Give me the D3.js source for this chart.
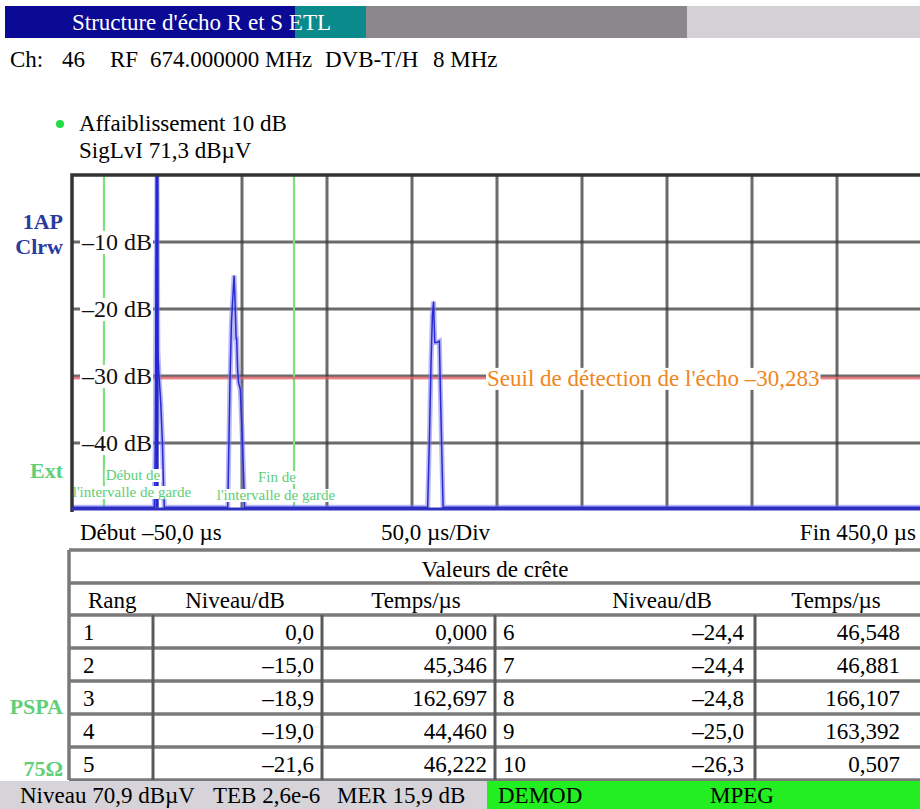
<!DOCTYPE html>
<html><head><meta charset="utf-8">
<script src="https://cdn.jsdelivr.net/npm/d3@7"></script>
<style>body{margin:0;background:#fff}svg{display:block}text{font-family:"Liberation Serif","DejaVu Serif",serif}</style>
</head><body><svg id="c" width="920" height="809"></svg>
<script>
// ---- data ----
const yTicks = [-10, -20, -30, -40];
const xDomain = [-50, 450];
const xGrid = [0, 50, 100, 150, 200, 250, 300, 350, 400];
const guardTimes = [-31.2, 80.6];
const threshold = -30.283;
const traceTime  = [-50, -1.6, -1.0, -0.6, -0.2, 0, 0.2, 0.507, 1.2, 2.2, 3.2, 3.8, 4.3,
  41.6, 42.3, 43.0, 43.8, 44.46, 45.346, 45.8, 46.222, 46.548, 46.881, 47.4, 48.0, 49.0, 50.0, 50.8, 51.5,
  159.2, 160.2, 161.2, 162.0, 162.697, 163.0, 163.392, 164.5, 166.107, 166.6, 167.4, 168.3, 450];
const traceLevel = [-49.6, -49.6, -40, -17, -8, 0, -10, -26.3, -30, -34, -40, -46, -49.6,
  -49.6, -40, -30, -22, -19.0, -15.0, -18, -21.6, -24.4, -24.4, -29, -31, -32, -38, -44, -49.6,
  -49.6, -40, -28, -21, -18.9, -22, -25.0, -25, -24.8, -31, -40, -49.6, -49.6];
const rankA = ["1","2","3","4","5"];
const levelA = ["0,0","–15,0","–18,9","–19,0","–21,6"];
const timeA = ["0,000","45,346","162,697","44,460","46,222"];
const rankB = ["6","7","8","9","10"];
const levelB = ["–24,4","–24,4","–24,8","–25,0","–26,3"];
const timeB = ["46,548","46,881","166,107","163,392","0,507"];
const headers = ["Rang","Niveau/dB","Temps/µs","Niveau/dB","Temps/µs"];
const chParts = ["Ch:","46","RF","674.000000 MHz","DVB-T/H","8 MHz"];
const statusParts = ["Niveau 70,9 dBµV","TEB 2,6e-6","MER 15,9 dB"];

// ---- drawing ----
const FS = 23;
const svg = d3.select("#c");
const x = d3.scaleLinear().domain(xDomain).range([72, 922]);
const y = d3.scaleLinear().domain([0, -50]).range([175, 510]);

// header bar
const hb = [[5,295,"#0a0a94"],[295,366,"#0b8a8c"],[366,687,"#8a888b"],[687,920,"#d3d1d5"]];
svg.selectAll("rect.hb").data(hb).join("rect").attr("x",d=>d[0]).attr("y",6).attr("width",d=>d[1]-d[0]).attr("height",32).attr("fill",d=>d[2]);
svg.append("text").attr("x",72).attr("y",30).attr("fill","#fff").attr("font-size",FS).text("Structure d'écho R et S ETL");
const chX = [10, 62, 110, 150, 325, 433];
chParts.forEach((t,i)=> svg.append("text").attr("x",chX[i]).attr("y",67).attr("font-size",FS).text(t));

// legend
svg.append("circle").attr("cx",60).attr("cy",124).attr("r",4).attr("fill","#22dd44");
svg.append("text").attr("x",79).attr("y",131).attr("font-size",FS).text("Affaiblissement 10 dB");
svg.append("text").attr("x",79).attr("y",158).attr("font-size",FS).text("SigLvI 71,3 dBµV");

// side labels
const side = [["1AP",229,"#2a3a9e"],["Clrw",254,"#2a3a9e"],["Ext",478,"#5fcf7a"],["PSPA",714,"#5fcf7a"],["75Ω",776,"#5fcf7a"]];
svg.selectAll("text.side").data(side).join("text").attr("x",63).attr("y",d=>d[1]).attr("text-anchor","end")
  .attr("font-size",22).attr("font-weight","bold").attr("fill",d=>d[2]).text(d=>d[0]);

const g = svg.append("g");
// grid
g.selectAll("line.vg").data(xGrid).join("line").attr("x1",d=>x(d)).attr("x2",d=>x(d)).attr("y1",y(0)).attr("y2",y(-50))
  .attr("stroke","#3a3a3a").attr("stroke-width",3).attr("stroke-opacity",0.75);
g.selectAll("line.hg").data(yTicks).join("line").attr("x1",72).attr("x2",920).attr("y1",d=>y(d)).attr("y2",d=>y(d))
  .attr("stroke","#3a3a3a").attr("stroke-width",3).attr("stroke-opacity",0.75);
// guard lines
g.selectAll("line.gd").data(guardTimes).join("line").attr("x1",d=>x(d)).attr("x2",d=>x(d)).attr("y1",y(0)).attr("y2",y(-50))
  .attr("stroke","#7ee07e").attr("stroke-width",2.2);
// threshold
g.append("line").attr("x1",72).attr("x2",920).attr("y1",y(threshold)).attr("y2",y(threshold)).attr("stroke","#e8606a").attr("stroke-width",3).attr("stroke-opacity",0.75);

// label backgrounds + labels
function labelBox(txt, xx, yy, size, color, anchor){
  const t = g.append("text").attr("x",xx).attr("y",yy).attr("font-size",size).attr("fill",color).attr("text-anchor",anchor).text(txt);
  const b = t.node().getBBox();
  g.insert("rect", () => t.node()).attr("x",b.x-1).attr("y",b.y+2).attr("width",b.width+2).attr("height",b.height-3).attr("fill","#fff");
  return t;
}
yTicks.forEach(v => labelBox("–" + Math.abs(v) + " dB", 152, y(v)+8, 24, "#111", "end"));
labelBox("Seuil de détection de l'écho –30,283", 487, y(threshold)+8, 23, "#f0861c", "start");

// trace
const line = d3.line().x((d,i)=>x(traceTime[i])).y((d,i)=>y(traceLevel[i]));
g.append("path").datum(traceLevel).attr("d",line).attr("fill","none").attr("stroke","#8080f2").attr("stroke-width",5).attr("stroke-opacity",0.55);
g.append("path").datum(traceLevel).attr("d",line).attr("fill","none").attr("stroke","#2a2ad0").attr("stroke-width",1.5);
g.append("line").attr("x1",x(0)).attr("x2",x(0)).attr("y1",y(0)).attr("y2",y(-49.6)).attr("stroke","#2424d8").attr("stroke-width",3);

// guard labels
const gl = [["Début de",133,480],["l'intervalle de garde",132,497],["Fin de",277,482],["l'intervalle de garde",276,500]];
gl.forEach(d => labelBox(d[0], d[1], d[2], 15, "#5cce78", "middle"));

// frame
g.append("path").attr("d",`M72,512 L72,175 L920,175`).attr("fill","none").attr("stroke","#333").attr("stroke-width",3.5);
g.append("line").attr("x1",72).attr("x2",920).attr("y1",509).attr("y2",509).attr("stroke","#3030c0").attr("stroke-width",3);

// axis texts below
svg.append("text").attr("x",80).attr("y",540).attr("font-size",FS).text("Début –50,0 µs");
svg.append("text").attr("x",381).attr("y",540).attr("font-size",FS).text("50,0 µs/Div");
svg.append("text").attr("x",916).attr("y",540).attr("text-anchor","end").attr("font-size",FS).text("Fin 450,0 µs");

// table
const tb = svg.append("g");
const rowsY = [550, 583, 615, 648, 681, 714, 747, 780];
const colX = [153, 322, 495, 755];
tb.selectAll("line.hr").data(rowsY).join("line").attr("x1",69).attr("x2",920).attr("y1",d=>d).attr("y2",d=>d)
  .attr("stroke","#7a7a7a").attr("stroke-width",3.5);
tb.append("line").attr("x1",69).attr("x2",69).attr("y1",550).attr("y2",780).attr("stroke","#7a7a7a").attr("stroke-width",3.5);
tb.selectAll("line.vr").data(colX).join("line").attr("x1",d=>d).attr("x2",d=>d).attr("y1",615).attr("y2",780)
  .attr("stroke","#5a5a5a").attr("stroke-width",3);
tb.append("text").attr("x",495).attr("y",577).attr("text-anchor","middle").attr("font-size",FS).text("Valeurs de crête");
const hx = [[88,"start"],[235,"middle"],[416,"middle"],[662,"middle"],[836,"middle"]];
headers.forEach((h,i)=> tb.append("text").attr("x",hx[i][0]).attr("y",608).attr("text-anchor",hx[i][1]).attr("font-size",FS).text(h));
const cols = [[rankA,83,"start"],[levelA,314,"end"],[timeA,487,"end"],[rankB,503,"start"],[levelB,744,"end"],[timeB,900,"end"]];
cols.forEach(c => {
  tb.selectAll(null).data(c[0]).join("text").attr("x",c[1]).attr("y",(d,i)=>rowsY[i+2]+25)
    .attr("text-anchor",c[2]).attr("font-size",FS).text(d=>d);
});

// status bar
svg.append("rect").attr("x",0).attr("y",781).attr("width",487).attr("height",28).attr("fill","#d6d4d8");
svg.append("rect").attr("x",487).attr("y",781).attr("width",433).attr("height",28).attr("fill","#22ee22");
const stX = [20, 213, 337];
statusParts.forEach((t,i)=> svg.append("text").attr("x",stX[i]).attr("y",803).attr("font-size",FS).text(t));
svg.append("text").attr("x",498).attr("y",803).attr("font-size",FS).text("DEMOD");
svg.append("text").attr("x",710).attr("y",803).attr("font-size",FS).text("MPEG");
</script></body></html>
